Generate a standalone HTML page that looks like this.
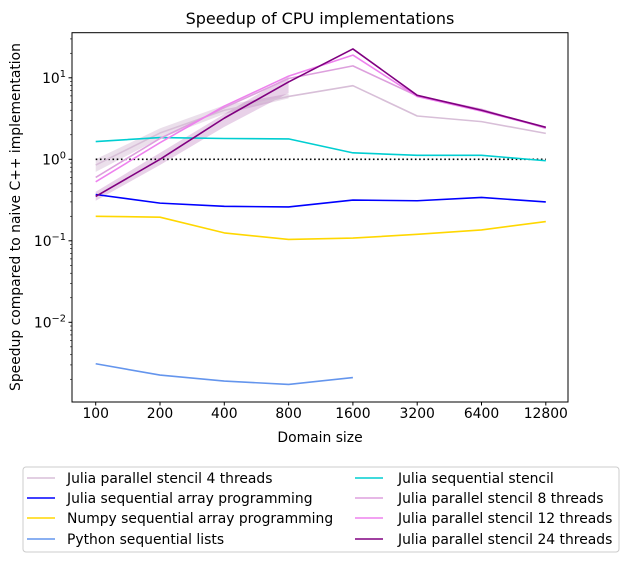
<!DOCTYPE html>
<html><head><meta charset="utf-8"><style>
body{margin:0;background:#fff;}
svg{display:block;font-family:"DejaVu Sans","Liberation Sans",sans-serif;}
</style></head><body>
<svg id="chart" width="629" height="562" viewBox="0 0 629 562" xmlns="http://www.w3.org/2000/svg">
<rect width="629" height="562" fill="#fff"/>
<text x="320" y="24" font-size="16" text-anchor="middle">Speedup of CPU implementations</text>
<g id="bands"></g><g id="lines"></g>
<rect x="72" y="32.7" width="496" height="369.3" fill="none" stroke="#000" stroke-width="1"/>
<g id="axes"></g>
<text x="320" y="442" font-size="13.9" text-anchor="middle">Domain size</text>
<text transform="translate(20,217) rotate(-90)" font-size="13.9" text-anchor="middle">Speedup compared to naive C++ implementation</text>
<g id="legend">
<rect x="23" y="467" width="596" height="85" rx="3" fill="#fff" stroke="#ccc"/>
</g>
</svg>
<script>
const categories=[100,200,400,800,1600,3200,6400,12800];
const seriesNames=["Julia parallel stencil 4 threads","Julia sequential array programming","Numpy sequential array programming","Python sequential lists","Julia sequential stencil","Julia parallel stencil 8 threads","Julia parallel stencil 12 threads","Julia parallel stencil 24 threads"];
const seriesColors=["#d8bfd8","#0000ff","#ffd700","#6495ed","#00ced1","#dda0dd","#ee82ee","#800080"];
const julia4=[0.85,2.1,4.0,5.9,8.0,3.4,2.9,2.08];
const juliaArray=[0.37,0.29,0.265,0.26,0.316,0.31,0.34,0.30];
const numpyArray=[0.2,0.195,0.125,0.104,0.108,0.12,0.136,0.172];
const pythonLists=[0.0031,0.00225,0.0019,0.00173,0.0021,null,null,null];
const juliaSeq=[1.65,1.85,1.8,1.78,1.2,1.12,1.12,0.96];
const julia8=[0.6,1.8,4.3,9.8,14,6.0,4.1,2.4];
const julia12=[0.53,1.6,4.5,10.5,19,5.9,3.9,2.45];
const julia24=[0.35,1.0,3.2,8.9,22.6,6.1,4.0,2.47];
const band4Low=[0.7,1.8,3.6,5.6,null,null,null,null];
const band4High=[1.0,2.4,4.6,6.4,null,null,null,null];
const band24Low=[0.31,0.85,2.5,6.5,null,null,null,null];
const band24High=[0.4,1.2,3.6,10.5,null,null,null,null];
const xTicks=["100","200","400","800","1600","3200","6400","12800"];
const yTickExps=[1,0,-1,-2];
const baseline=1;
const allSeries=[julia4,juliaArray,numpyArray,pythonLists,juliaSeq,julia8,julia12,julia24];

const NS="http://www.w3.org/2000/svg";
const X0=95.7,DX=64.3,Y1=159.3,DEC=81.5;
function xs(i){return X0+i*DX;}
function ys(v){return Y1-Math.log10(v)*DEC;}
function mk(tag,attrs,parent){const e=document.createElementNS(NS,tag);for(const k in attrs)e.setAttribute(k,attrs[k]);parent.appendChild(e);return e;}
const axes=document.getElementById('axes'),lines=document.getElementById('lines'),bands=document.getElementById('bands'),legend=document.getElementById('legend');

categories.forEach((c,i)=>{
 const x=xs(i);
 const t=mk('line',{x1:x,x2:x,y1:402,y2:405.5,stroke:'#000'},axes);
 
 
 const l=mk('text',{x:x,y:418,'font-size':13.9,'text-anchor':'middle'},axes);
 l.textContent=xTicks[i];
 
 
});
yTickExps.forEach(e=>{
 const y=ys(Math.pow(10,e));
 const t=mk('line',{x1:68.5,x2:72,y1:y,y2:y,stroke:'#000'},axes);
 
 
 const l=mk('text',{x:66,y:y+5,'font-size':13.9,'text-anchor':'end'},axes);
 l.innerHTML='10<tspan dy="-6" font-size="9.8">'+(e<0?'\u2212'+(-e):e)+'</tspan>';
 
 
 for(let m=2;m<10;m++){
  const yy=ys(m*Math.pow(10,e-1));
  if(yy>32.7&&yy<402){const mt=mk('line',{x1:70,x2:72,y1:yy,y2:yy,stroke:'#000','stroke-width':0.6},axes);
   
   }
 }
 if(e===1){for(let m=2;m<4;m++){const yy=ys(m*10);if(yy>32.7){const mt=mk('line',{x1:70,x2:72,y1:yy,y2:yy,stroke:'#000','stroke-width':0.6},axes);
   
   }}}
});

function bandPath(lo,hi){let top=[],bot=[];lo.forEach((v,i)=>{if(v!=null){top.push(xs(i)+','+ys(hi[i]));bot.unshift(xs(i)+','+ys(v));}});return 'M'+top.join('L')+'L'+bot.join('L')+'Z';}
const b1=mk('path',{d:bandPath(band4Low,band4High),fill:'#d8bfd8','fill-opacity':0.5},bands);


const b2=mk('path',{d:bandPath(band24Low,band24High),fill:'#800080','fill-opacity':0.18},bands);



const bl=mk('line',{x1:xs(0),x2:xs(categories.length-1),y1:ys(baseline),y2:ys(baseline),stroke:'#000','stroke-width':1.6,'stroke-dasharray':'1.6,2.6'},lines);



allSeries.forEach((s,k)=>{
 const pts=[];s.forEach((v,i)=>{if(v!=null)pts.push(xs(i)+','+ys(v));});
 const p=mk('polyline',{points:pts.join(' '),fill:'none',stroke:seriesColors[k],'stroke-width':1.6,'stroke-linejoin':'round'},lines);
 
 
});

const rowY=[478,498,518,539];
seriesNames.forEach((n,k)=>{
 const col=k<4?0:1,r=k%4;
 const hx=col?355:27,tx=col?398:67;
 const h=mk('line',{x1:hx,x2:hx+28,y1:rowY[r],y2:rowY[r],stroke:seriesColors[k],'stroke-width':1.6},legend);
 
 
 const t=mk('text',{x:tx,y:rowY[r]+5,'font-size':13.9},legend);
 t.textContent=n;
 
 
});
</script>
</body></html>
